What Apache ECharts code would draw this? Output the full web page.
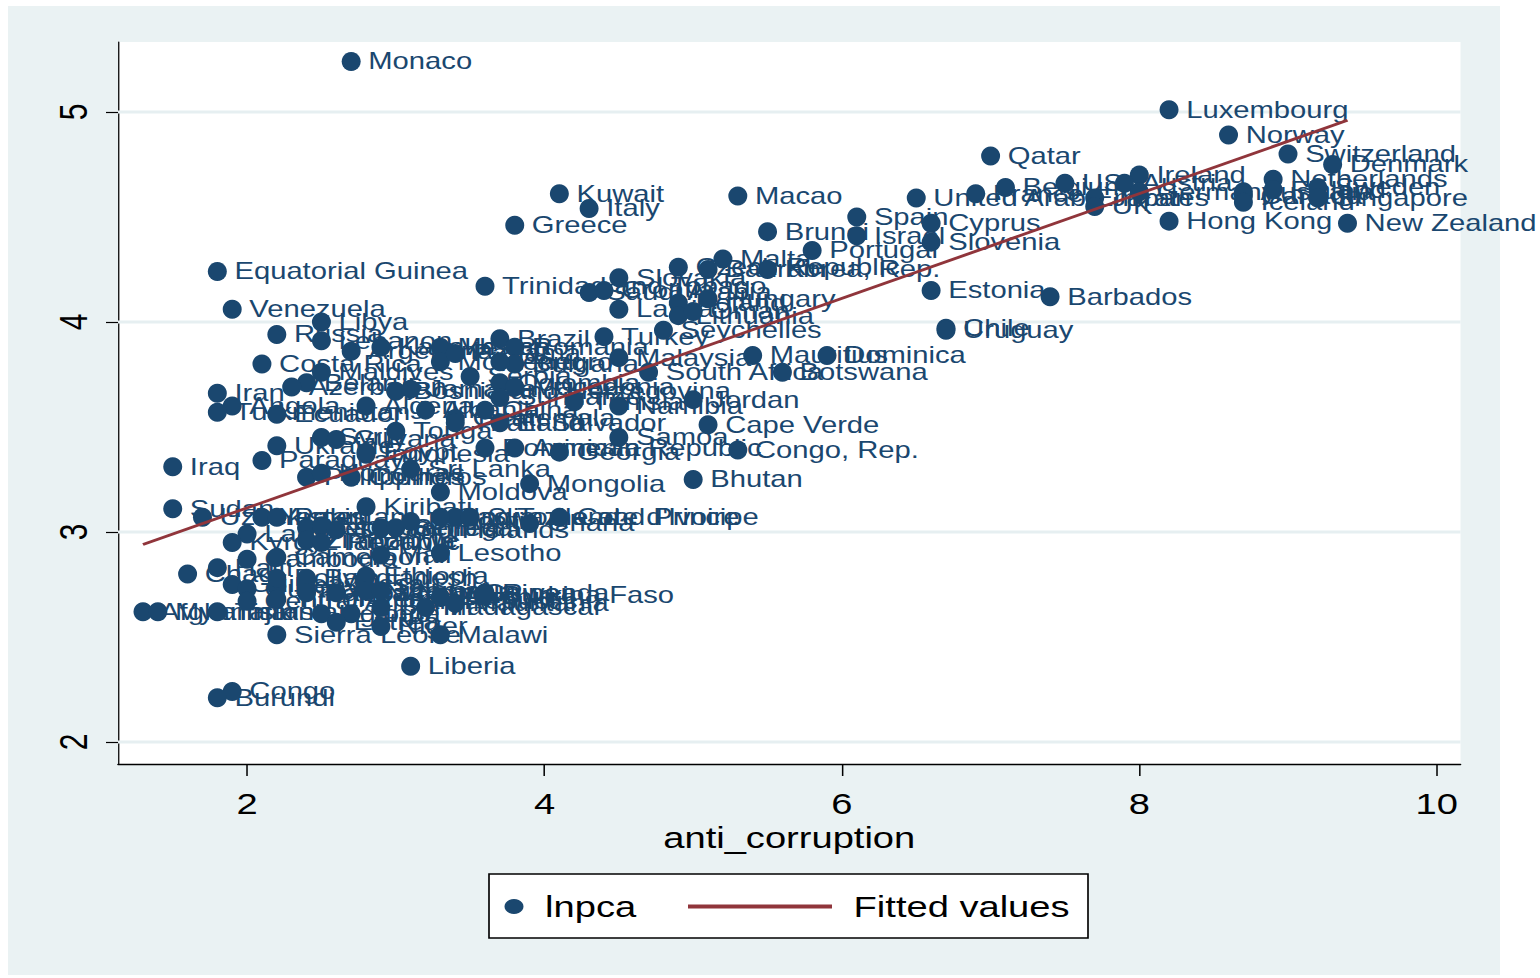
<!DOCTYPE html>
<html>
<head>
<meta charset="utf-8">
<title>lnpca vs anti_corruption</title>
<script src="https://cdn.jsdelivr.net/npm/echarts@6/dist/echarts.min.js"></script>
<style>
  html, body { margin: 0; padding: 0; background: #ffffff; overflow: hidden; }
  #page { position: relative; width: 1540px; height: 978px; overflow: hidden; background: #ffffff; }
  #frame { position: absolute; left: 8px; top: 6px; width: 1492px; height: 969px; background: #eaf2f3; }
  /* the graph is laid out in a narrower box and widened, giving the wide lettering of the figure */
  #chart { position: absolute; left: 0; top: 0; height: 978px; transform-origin: 0 0; }
</style>
</head>
<body>
<div id="page">
  <div id="frame"></div>
  <div id="chart"></div>
</div>
<script>
// Country names, anti-corruption score and lnpca
const countries = [
  "Monaco","Luxembourg","Norway","Qatar","Switzerland","Denmark","Ireland","US","Austria","Belgium",
  "Netherlands","Finland","France","United Arab Emirates","Germany","Japan","UK","Australia","Canada","Iceland",
  "Sweden","Singapore","Hong Kong","New Zealand","Kuwait","Italy","Greece","Macao","Brunei","Spain",
  "Israel","Cyprus","Slovenia","Portugal","Malta","Estonia","Barbados","Chile","Uruguay","Equatorial Guinea",
  "Trinidad and Tobago","Venezuela","Czech Republic","Bahrain","Korea, Rep.","Slovakia","Saudi Arabia","Croatia","Hungary","Poland",
  "Lithuania","Latvia","Oman","Seychelles","Turkey","Brazil","Malaysia","Mauritius","Dominica","Botswana",
  "South Africa","Jordan","Namibia","Cape Verde","Samoa","Congo, Rep.","Bhutan","Mongolia","Georgia","Libya",
  "Lebanon","Russia","Costa Rica","Argentina","Kazakhstan","Mexico","Montenegro","Panama","Romania","Bulgaria",
  "Peru","Maldives","Belarus","Azerbaijan","Iran","Angola","Turkmenistan","Ecuador","Algeria","Bosnia and Herzegovina",
  "Jamaica","Albania","Guatemala","China","Colombia","Suriname","Serbia","Tunisia","Tonga","Syria",
  "Guyana","Ukraine","Thailand","El Salvador","Dominican Republic","Armenia","Sri Lanka","Indonesia","Egypt","Paraguay",
  "Philippines","Honduras","Comoros","Moldova","Iraq","Sudan","Uzbekistan","Kiribati","Yemen","Pakistan",
  "Nepal","Nigeria","Laos","Kyrgyz Republic","Zimbabwe","Tanzania","Gambia","Senegal","Djibouti","India",
  "Swaziland","Ghana","Cote d'Ivoire","Sao Tome and Principe","Cambodia","Cameroon","Mali","Lesotho","Chad","Haiti",
  "Guinea-Bissau","Guinea","Bangladesh","Ethiopia","Kenya","Afghanistan","Myanmar","Tajikistan","Central African Republic","Timor-Leste",
  "Mozambique","Uganda","Togo","Benin","Madagascar","Zambia","Eritrea","Niger","Sierra Leone","Malawi",
  "Liberia","Congo","Burundi","Rwanda","Burkina Faso","Mauritania","Papua New Guinea","Nicaragua","Solomon Islands","Bolivia",
  "Vanuatu","Macedonia"
];
const antiCorruption = [
  2.7,8.2,8.6,7.0,9.0,9.3,8.0,7.5,7.9,7.1,
  8.9,8.9,6.9,6.5,8.0,7.7,7.7,8.7,8.7,8.7,
  9.2,9.2,8.2,9.4,4.1,4.3,3.8,5.3,5.5,6.1,
  6.1,6.6,6.6,5.8,5.2,6.6,7.4,6.7,6.7,1.8,
  3.6,1.9,4.9,5.1,5.5,4.5,4.3,4.4,5.1,4.9,
  4.9,4.5,5.0,4.8,4.4,3.7,4.5,5.4,5.9,5.6,
  4.7,5.0,4.5,5.1,4.5,5.3,5.0,3.9,4.1,2.5,
  2.5,2.2,2.1,2.7,2.9,3.3,3.3,3.4,3.8,3.8,
  3.7,2.5,2.4,2.3,1.8,1.9,1.8,2.2,2.8,3.0,
  3.1,3.2,3.4,3.6,3.7,3.7,3.5,4.2,3.0,2.5,
  2.6,2.2,3.4,3.7,3.6,3.8,3.1,2.8,2.8,2.1,
  2.4,2.5,2.7,3.3,1.5,1.5,1.7,2.8,2.1,2.2,
  2.4,2.5,2.0,1.9,2.4,2.5,2.9,3.0,3.1,3.4,
  3.5,3.9,4.1,3.3,2.0,2.2,2.9,3.3,1.6,1.8,
  1.9,2.0,2.4,2.8,2.2,1.3,1.4,1.8,2.0,2.2,
  2.6,2.5,2.7,2.9,3.2,3.3,2.6,2.9,2.2,3.3,
  3.1,1.9,1.8,3.6,3.6,3.4,2.4,2.8,2.6,2.2,
  2.9,3.8
];
const lnpca = [
  5.24,5.01,4.89,4.79,4.80,4.75,4.70,4.66,4.66,4.64,
  4.68,4.63,4.61,4.59,4.62,4.59,4.55,4.62,4.60,4.57,
  4.64,4.59,4.48,4.47,4.61,4.54,4.46,4.60,4.43,4.50,
  4.41,4.47,4.38,4.34,4.30,4.15,4.12,3.97,3.96,4.24,
  4.17,4.06,4.26,4.25,4.25,4.21,4.14,4.15,4.11,4.09,
  4.03,4.06,4.05,3.96,3.93,3.92,3.83,3.84,3.84,3.76,
  3.76,3.63,3.60,3.51,3.45,3.39,3.25,3.23,3.38,4.00,
  3.91,3.94,3.80,3.86,3.88,3.88,3.81,3.85,3.88,3.80,
  3.81,3.76,3.71,3.69,3.66,3.60,3.57,3.56,3.60,3.67,
  3.68,3.58,3.54,3.58,3.71,3.64,3.74,3.62,3.48,3.45,
  3.44,3.41,3.52,3.52,3.40,3.40,3.30,3.37,3.38,3.34,
  3.26,3.28,3.26,3.19,3.31,3.11,3.07,3.12,3.07,3.07,
  3.02,3.03,2.99,2.95,2.96,2.95,3.02,3.02,3.05,3.07,
  3.07,3.04,3.07,3.07,2.87,2.88,2.89,2.90,2.80,2.83,
  2.75,2.73,2.78,2.79,2.74,2.62,2.62,2.62,2.67,2.68,
  2.71,2.61,2.61,2.64,2.64,2.69,2.57,2.55,2.51,2.51,
  2.36,2.24,2.21,2.71,2.70,2.66,2.71,2.72,3.01,2.78,
  2.72,3.69
];

// Fitted values (linear fit), end points of the line
const fitX = [1.3, 9.4];
const fitY = [2.94, 4.96];

// Axis ticks
const xTicks = [2, 4, 6, 8, 10];
const yTicks = [2, 3, 4, 5];
const xRange = [1.132, 10.16];
const yRange = [1.895, 5.333];

const NAVY = '#1a476f';
const MAROON = '#90353b';
const FONT = '"Liberation Sans", Arial, Helvetica, sans-serif';

// horizontal widening of the whole graph
const SX = 1.27;
const W = 1540 / SX;
const hx = v => v / SX;

const el = document.getElementById('chart');
el.style.width = W + 'px';
el.style.transform = 'scaleX(' + SX + ')';

const points = countries.map((c, i) => ({ name: c, value: [antiCorruption[i], lnpca[i]] }));
const fitted = fitX.map((x, i) => [x, fitY[i]]);

const gridSeries = yTicks.map(t => ({
  type: 'line',
  name: 'grid' + t,
  data: [[xRange[0], t], [xRange[1], t]],
  symbol: 'none',
  silent: true,
  lineStyle: { color: '#e6eff1', width: 3 },
  z: 1
}));

// legend row: both keys share one text line centred at y = 906
const legendTop = 891.5;

const chart = echarts.init(el, null, { renderer: 'svg' });
chart.setOption({
  animation: false,
  textStyle: { fontFamily: FONT },
  graphic: [{
    type: 'rect',
    shape: { x: hx(489), y: 874, width: hx(1088 - 489), height: 64 },
    style: { fill: '#ffffff', stroke: '#000000', lineWidth: 1.3 },
    z: 3,
    silent: true
  }],
  grid: {
    left: hx(118), right: W - hx(1460), top: 42, bottom: 978 - 764,
    show: true, backgroundColor: '#ffffff', borderWidth: 0
  },
  xAxis: {
    type: 'value', min: xRange[0], max: xRange[1],
    name: 'anti_corruption', nameLocation: 'middle', nameGap: 57,
    nameTextStyle: { fontSize: 30, color: '#000000', fontFamily: FONT },
    axisLine: { show: true, onZero: false, lineStyle: { color: '#000000', width: 1.3 } },
    axisTick: { show: true, length: 12, customValues: xTicks, lineStyle: { color: '#000000', width: 1.2 } },
    axisLabel: { customValues: xTicks, fontSize: 30, color: '#000000', margin: 24, fontFamily: FONT },
    splitLine: { show: false }
  },
  yAxis: {
    type: 'value', min: yRange[0], max: yRange[1],
    axisLine: { show: true, onZero: false, lineStyle: { color: '#000000', width: 1 } },
    axisTick: { show: true, length: hx(12), customValues: yTicks, lineStyle: { color: '#000000', width: 1.2 } },
    axisLabel: { customValues: yTicks, rotate: 90, fontSize: 30, color: '#000000', margin: 20, fontFamily: FONT },
    splitLine: { show: false }
  },
  legend: [{
    data: ['lnpca'],
    left: hx(514) - hx(19) / 2, top: legendTop, padding: 0,
    itemWidth: hx(19), itemHeight: 19, symbolKeepAspect: false, icon: 'circle',
    selectedMode: false,
    textStyle: { fontSize: 30, color: '#000000', fontFamily: FONT, padding: [0, 0, 0, 12] },
    z: 5
  }, {
    data: [{ name: 'Fitted values', icon: 'rect' }],
    left: hx(688), top: legendTop, padding: 0,
    itemWidth: hx(832 - 688), itemHeight: 4,
    selectedMode: false,
    textStyle: { fontSize: 30, color: '#000000', fontFamily: FONT, padding: [0, 0, 0, 12] },
    z: 5
  }],
  series: gridSeries.concat([{
    type: 'scatter',
    name: 'lnpca',
    data: points,
    symbol: 'circle',
    symbolSize: [hx(19), 19],
    itemStyle: { color: NAVY, opacity: 1 },
    label: {
      show: true, position: 'right', distance: 6,
      formatter: '{b}', color: NAVY, fontSize: 23, fontFamily: FONT
    },
    emphasis: { disabled: true },
    z: 3
  }, {
    type: 'line',
    name: 'Fitted values',
    data: fitted,
    symbol: 'none',
    lineStyle: { color: MAROON, width: 2.8 },
    itemStyle: { color: MAROON },
    emphasis: { disabled: true },
    z: 4
  }])
});
</script>
</body>
</html>
